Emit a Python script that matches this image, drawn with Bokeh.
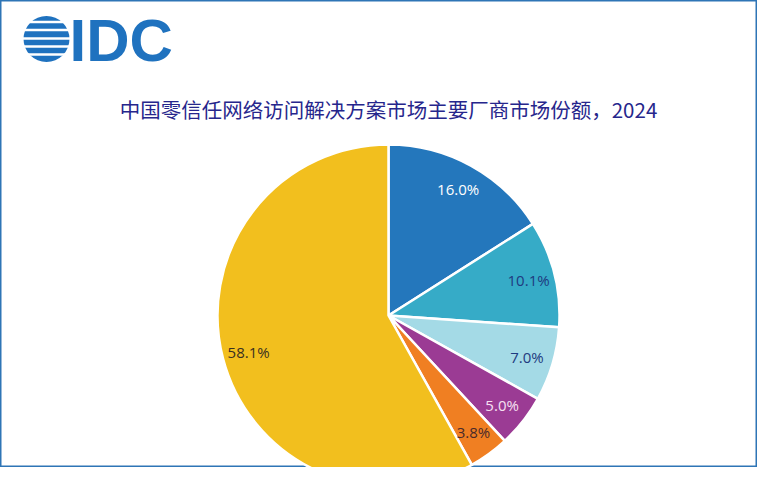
import math
from bokeh.plotting import figure
from bokeh.models import Range1d
from bokeh.core.properties import value
from bokeh.embed import file_html
from bokeh.resources import INLINE

# ---- data ----
title_text = "中国零信任网络访问解决方案市场主要厂商市场份额，2024"
shares = [16.0, 10.1, 7.0, 5.0, 3.8, 58.1]
share_labels = ["16.0%", "10.1%", "7.0%", "5.0%", "3.8%", "58.1%"]

# ---- style ----
slice_colors = ["#2477BC", "#36ABC7", "#A4DAE6", "#9B3B94", "#F07F22", "#F2BF1E"]
label_colors = ["#FFFFFF", "#1F3A80", "#1F3A80", "#F6E0F2", "#4A2A2A", "#3A3020"]
LOGO_BLUE = "#1F72BF"

W, H = 757, 467
SH = 483  # reference height used for coordinate conversion


def sy(y):
    return SH - y


p = figure(width=W, height=H, output_backend="svg", toolbar_location=None,
           x_range=Range1d(0, W), y_range=Range1d(SH - H, SH),
           min_border=0, background_fill_color="white", border_fill_color="white")
p.axis.visible = False
p.grid.visible = False
p.outline_line_color = "#2E75B6"
p.outline_line_width = 2

# ---- pie ----
cx, cy, r = 388, sy(315), 171
total = sum(shares)
cum = 0.0
starts, ends, mids = [], [], []
for s in shares:
    a0 = math.pi / 2 - 2 * math.pi * (cum + s) / total
    a1 = math.pi / 2 - 2 * math.pi * cum / total
    starts.append(a0)
    ends.append(a1)
    mids.append((a0 + a1) / 2)
    cum += s

p.wedge(x=[cx] * len(shares), y=[cy] * len(shares), radius=r,
        start_angle=starts, end_angle=ends, fill_color=slice_colors,
        line_color="white", line_width=2.5)

lr = 0.845 * r
lx = [cx + lr * math.cos(m) for m in mids]
ly = [cy + lr * math.sin(m) for m in mids]
p.text(x=lx, y=ly, text=share_labels, text_color=label_colors,
       text_font=value("Open Sans"), text_font_size="15px",
       text_align="center", text_baseline="middle")

# ---- title ----
p.text(x=[388], y=[sy(108)], text=[title_text], text_color="#26268C",
       text_font=value("Noto Sans CJK SC"), text_font_size="20.5px",
       text_align="center", text_baseline="middle")

# ---- IDC logo ----
gx, gy, gr = 46, sy(38.5), 23
p.circle(x=[gx], y=[gy], radius=gr, fill_color=LOGO_BLUE, line_color=None)
gap_y = [sy(21.5), sy(29.5), sy(38), sy(46), sy(54)]
p.segment(x0=[gx - gr - 2] * len(gap_y), x1=[gx + gr + 2] * len(gap_y),
          y0=gap_y, y1=gap_y, line_color="white", line_width=2.5)
p.text(x=[69], y=[sy(40)], text=["IDC"], text_color=LOGO_BLUE,
       text_font=value("Liberation Sans"), text_font_style="bold",
       text_font_size="60px", text_align="left", text_baseline="middle")

open("out.html", "w").write(file_html(p, INLINE))
